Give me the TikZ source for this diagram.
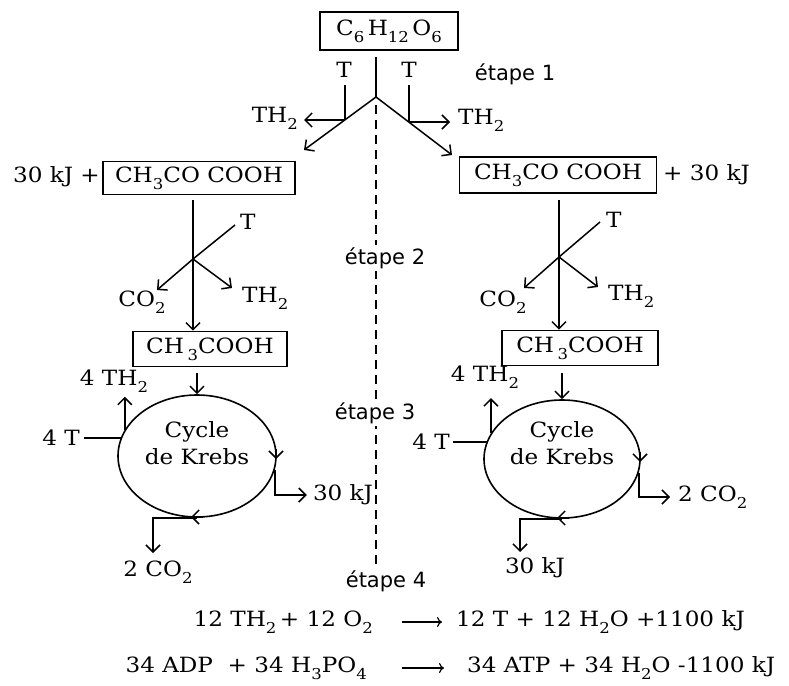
\documentclass[tikz,border=0pt]{standalone}
\usepackage{fontspec}
\setmainfont[FakeStretch=1.1]{DejaVu Serif}
\newfontfamily\etfont{DejaVu Sans}
\usetikzlibrary{arrows.meta,shapes.geometric}
\newcommand\chsub[1]{\raisebox{-0.32em}{\fontsize{15}{15}\selectfont #1}}
\begin{document}
\begin{tikzpicture}[x=1pt,y=-1pt,
  every node/.style={inner sep=0pt, font=\fontsize{21}{24}\selectfont},
  chembox/.style={draw, line width=1.7pt},
  flow/.style={line width=1.5pt, -{Straight Barb[length=7pt,width=14pt]}},
  plain/.style={line width=1.5pt},
  tipmark/.style={line width=1.5pt, -{Straight Barb[length=7pt,width=14pt]}},
  etape/.style={font=\etfont\fontsize{21}{24}\selectfont, fill=white, inner sep=2pt},
  cycle/.style={draw, ellipse, line width=1.6pt},
  eqarrow/.style={line width=1.2pt, -{To[length=5pt,width=10pt]}}
]
\useasboundingbox (0,0) rectangle (789,685);

% ---------- top ----------
\node[chembox, minimum width=138pt, minimum height=38pt] (glu) at (389,31) {C\chsub{6}\,H\chsub{12}\,O\chsub{6}};
\coordinate (g0) at (376,57);
\coordinate (j0) at (376,97);
\coordinate (dl) at (304,150);
\coordinate (dr) at (452,155);
\draw[plain] (g0) -- (j0);
\draw[flow] (j0) -- (dl);
\draw[flow] (j0) -- (dr);

\node (tL) at (344,70) {T};
\node[anchor=east] (thL) at (298,118) {TH\chsub{2}};
\coordinate (tLa) at (345,85);
\coordinate (tLb) at (345,120);
\coordinate (tLc) at (304,120);
\draw[plain] (tLa) -- (tLb);
\draw[flow] (tLb) -- (tLc);

\node (tR) at (409,70) {T};
\node[anchor=west] (thR) at (458,120) {TH\chsub{2}};
\coordinate (tRa) at (409,85);
\coordinate (tRb) at (409,122);
\coordinate (tRc) at (450,122);
\draw[plain] (tRa) -- (tRb);
\draw[flow] (tRb) -- (tRc);

\node[font=\etfont\fontsize{21}{24}\selectfont] (et1) at (515,74) {étape 1};

% ---------- dashed separator ----------
\coordinate (dashA) at (376,105);
\coordinate (dashB) at (376,568);
\draw[line width=1.6pt, dash pattern=on 9pt off 6pt] (dashA) -- (dashB);
\node[etape] (et2) at (385,258) {étape 2};
\node[etape] (et3) at (375,413) {étape 3};
\node[etape] (et4) at (386,581) {étape 4};

% ---------- left branch ----------
\node[chembox, minimum width=192pt, minimum height=33pt] (L1) at (199,178) {CH\chsub{3}CO COOH};
\node[anchor=east] (eL) at (100,177) {30 kJ +};
\node[chembox, minimum width=154pt, minimum height=35pt] (L2) at (210,349) {CH\,\chsub{3}COOH};
\coordinate (L1b) at (193,200);
\coordinate (jl) at (193,259);
\draw[flow] (L1b) -- (L1b |- L2.north);
\coordinate (tl2) at (235,225);
\draw[plain] (jl) -- (tl2);
\node[anchor=west] (tL2) at (240,222) {T};
\coordinate (cl2) at (157,290);
\coordinate (hl2) at (232,288);
\draw[flow] (jl) -- (cl2);
\draw[flow] (jl) -- (hl2);
\node (coL2) at (142,302) {CO\chsub{2}};
\node[anchor=west] (thL2) at (242,298) {TH\chsub{2}};

% ---------- right branch ----------
\node[chembox, minimum width=197pt, minimum height=36pt] (R1) at (558,175) {CH\chsub{3}CO COOH};
\node[anchor=west] (eR) at (663,175) {+ 30 kJ};
\node[chembox, minimum width=156pt, minimum height=35pt] (R2) at (580,348) {CH\,\chsub{3}COOH};
\coordinate (R1b) at (559,200);
\coordinate (jr) at (559,257);
\draw[flow] (R1b) -- (R1b |- R2.north);
\coordinate (tr2) at (600,222);
\draw[plain] (jr) -- (tr2);
\node[anchor=west] (tR2) at (606,220) {T};
\coordinate (cr2) at (524,288);
\coordinate (hr2) at (598,287);
\draw[flow] (jr) -- (cr2);
\draw[flow] (jr) -- (hr2);
\node (coR2) at (503,302) {CO\chsub{2}};
\node[anchor=west] (thR2) at (608,296) {TH\chsub{2}};

% ---------- Krebs left ----------
\node[cycle, minimum width=158pt, minimum height=122pt] (KL) at (197,456) {};
\node[align=center] (KLt) at (197,443) {Cycle\\[3pt]de Krebs};
\coordinate (KLin) at (197,373);
\draw[flow] (KLin) -- (KL.north);
\draw[tipmark] (276,449) -- (276,459);
\draw[tipmark] (203,517) -- (191,517);
\node (kjL) at (343,495) {30 kJ};
\draw[flow, shorten >=6pt] (KL.-10) |- (kjL.west);
\coordinate (cLend) at (153,553);
\draw[flow] (KL.south) -| (cLend);
\node (coL) at (158,572) {2 CO\chsub{2}};
\node[anchor=east] (fTL) at (80,438) {4 T};
\draw[plain] ([xshift=4pt]fTL.east) -- (fTL.east -| KL.167);
\node (thKL) at (114,381) {4 TH\chsub{2}};
\draw[flow] (KL.160) -- ++(0,-33);

% ---------- Krebs right ----------
\node[cycle, minimum width=156pt, minimum height=118pt] (KR) at (562,459) {};
\node[align=center] (KRt) at (562,443) {Cycle\\[3pt]de Krebs};
\coordinate (KRin) at (562,373);
\draw[flow] (KRin) -- (KR.north);
\draw[tipmark] (640,452) -- (640,462);
\draw[tipmark] (569,518) -- (557,518);
\node[anchor=west] (coR) at (678,497) {2 CO\chsub{2}};
\draw[flow, shorten >=8pt] (KR.-10) |- (coR.west);
\coordinate (cRend) at (520,552);
\draw[flow] (KR.south) -| (cRend);
\node (kjR) at (535,568) {30 kJ};
\node[anchor=east] (fTR) at (450,442) {4 T};
\draw[plain] ([xshift=3pt]fTR.east) -- (fTR.east -| KR.167);
\node (thKR) at (485,377) {4 TH\chsub{2}};
\draw[flow] (KR.160) -- ++(0,-35);

% ---------- equations ----------
\node[anchor=east] (e1l) at (373,622) {12 TH\chsub{2}\,+ 12 O\chsub{2}};
\node[anchor=west] (e1r) at (456,622) {12 T + 12 H\chsub{2}O +1100 kJ};
\draw[eqarrow, shorten <=29pt, shorten >=14pt] (e1l) -- (e1r);
\node[anchor=east] (e2l) at (367,668) {34 ADP\ \ + 34 H\chsub{3}PO\chsub{4}};
\node[anchor=west] (e2r) at (467,668) {34 ATP + 34 H\chsub{2}O -1100 kJ};
\draw[eqarrow, shorten <=35pt, shorten >=23pt] (e2l) -- (e2r);
\end{tikzpicture}
\end{document}
